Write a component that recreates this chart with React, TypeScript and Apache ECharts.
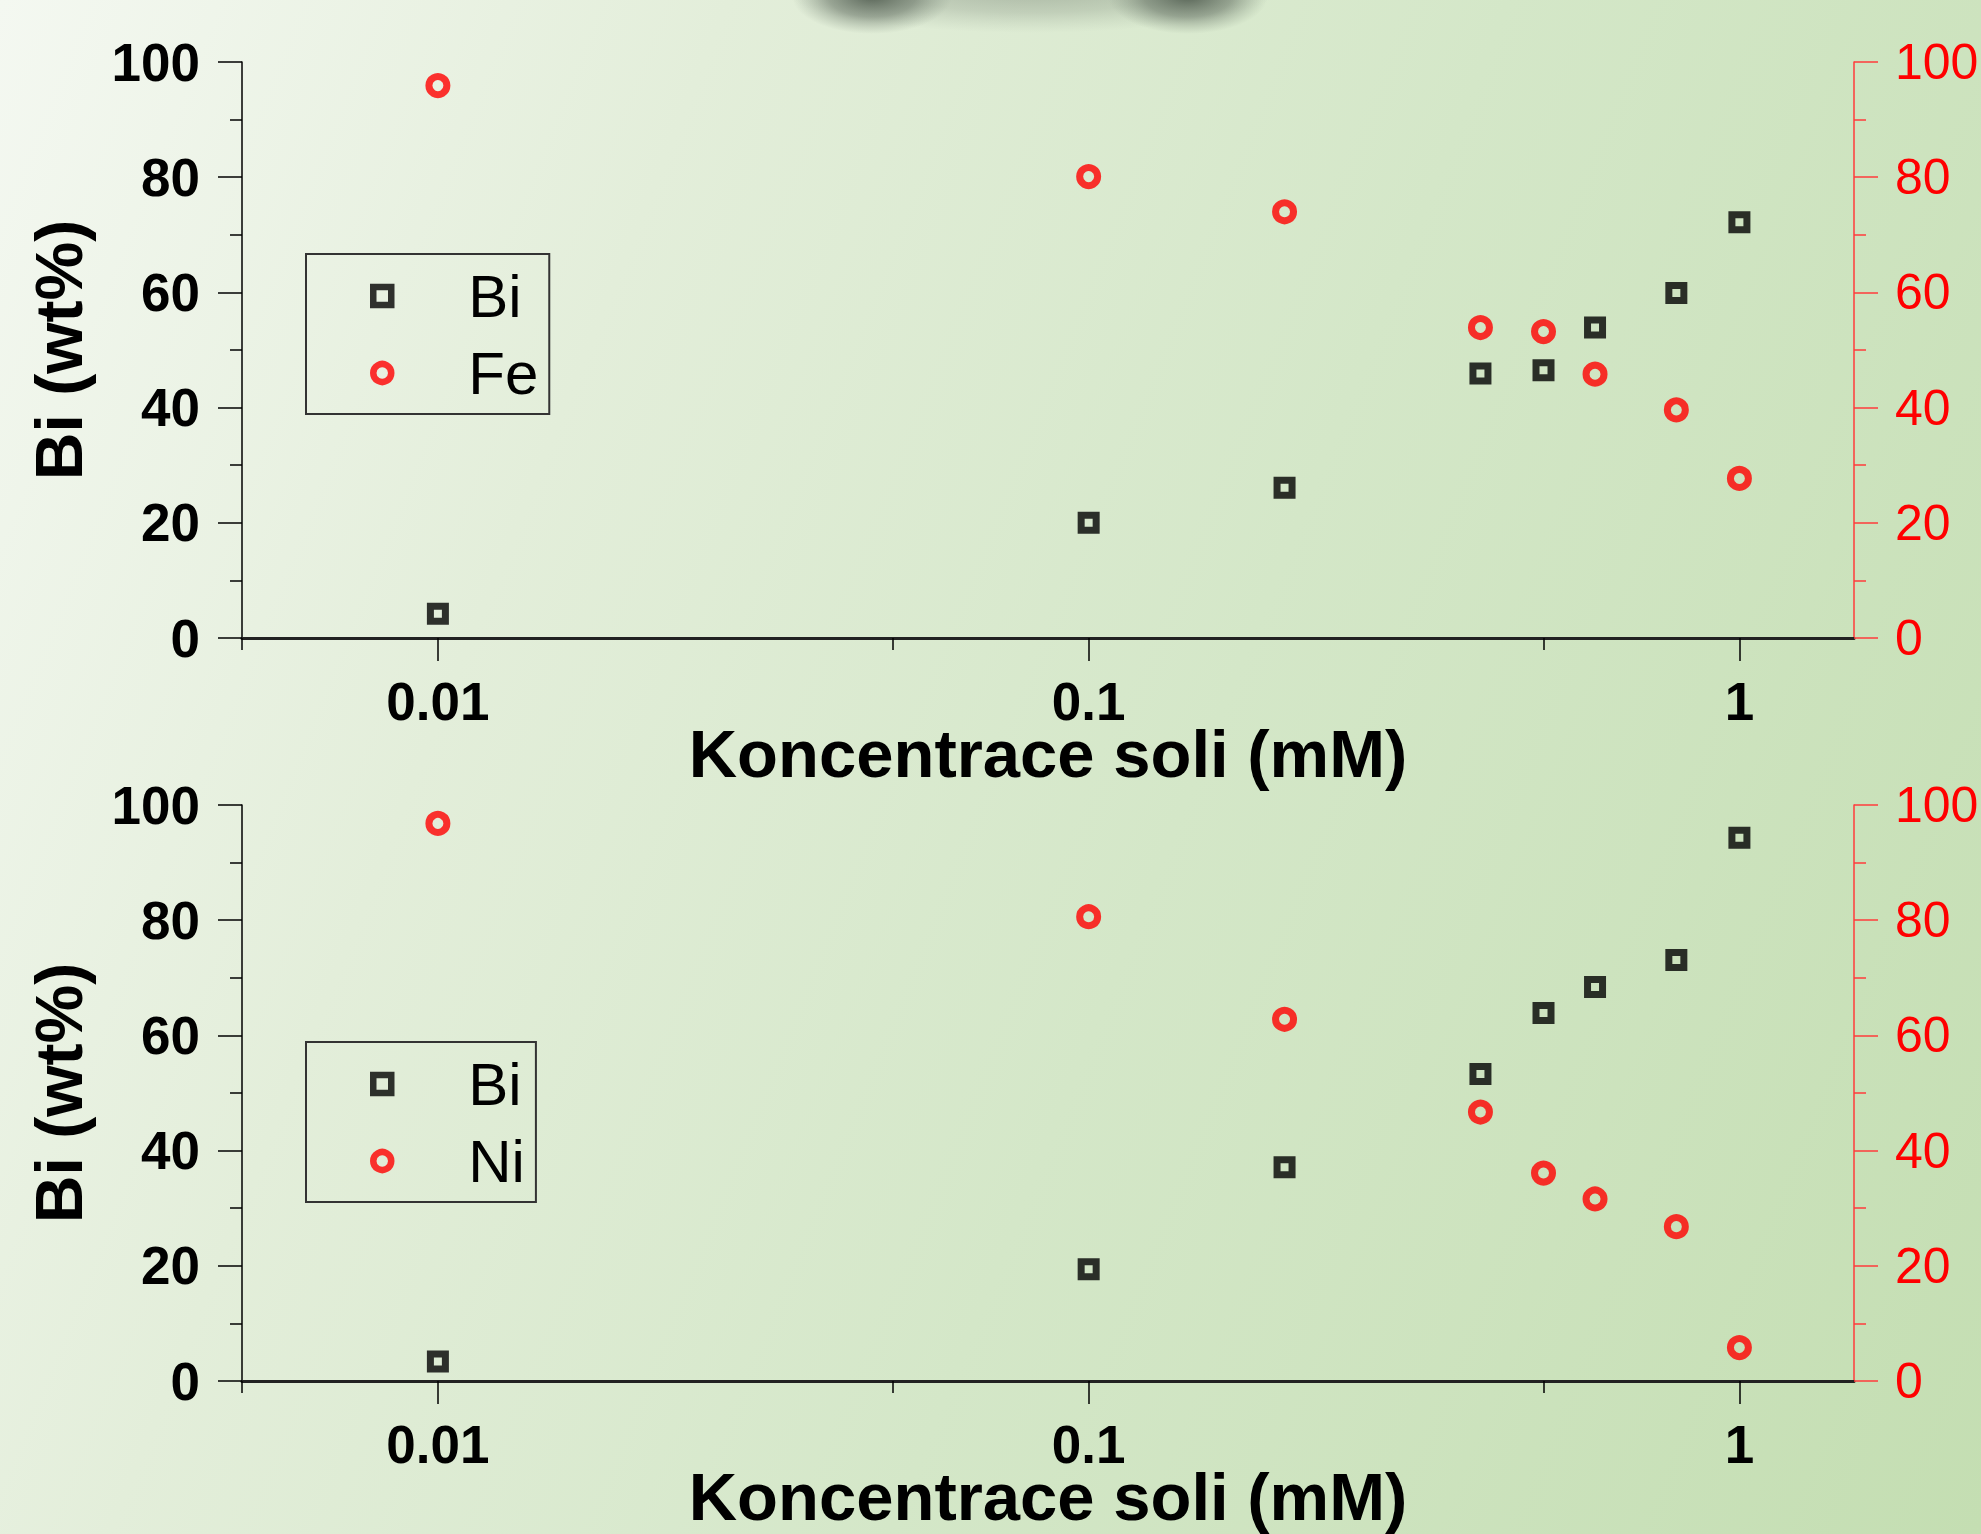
import React, { useEffect, useRef } from 'react';
import * as echarts from 'echarts';

// ---- data ----
const concentrations = [0.01, 0.1, 0.2, 0.4, 0.5, 0.6, 0.8, 1];
const biWithFe = [4.2, 20.0, 26.1, 45.9, 46.5, 53.9, 59.9, 72.2];
const feValues = [95.9, 80.1, 74.0, 53.9, 53.2, 45.8, 39.6, 27.7];
const biWithNi = [3.4, 19.4, 37.1, 53.3, 63.9, 68.4, 73.1, 94.3];
const niValues = [96.8, 80.6, 62.8, 46.7, 36.1, 31.6, 26.8, 5.8];

const xMajorTicks = [0.01, 0.1, 1];
const xMajorLabels = ['0.01', '0.1', '1'];
const xMinorTicks = [0.005, 0.05, 0.5];
const X_MIN = 0.005;
const X_MAX = 1.5;
const Y_MIN = 0;
const Y_MAX = 100;
const Y_STEP = 20;

const xTitle = 'Koncentrace soli (mM)';
const yTitle = 'Bi (wt%)';

const FONT = 'Liberation Sans, Arial, sans-serif';
const RED = '#ff0000';

function xLabelFormatter(v: number) {
  const i = xMajorTicks.findIndex((t) => Math.abs(Math.log10(t) - Math.log10(v)) < 1e-6);
  return i >= 0 ? xMajorLabels[i] : '';
}

function pairs(ys: number[]) {
  return concentrations.map((x, i) => [x, ys[i]]);
}

export default function App() {
  const ref = useRef<HTMLDivElement>(null);

  useEffect(() => {
    if (!ref.current) return;
    const chart = echarts.init(ref.current, undefined, { renderer: 'svg' });

    const gridTops = [62, 805];
    const panels = [
      { bi: biWithFe, other: feValues, otherName: 'Fe', legendTop: 254 },
      { bi: biWithNi, other: niValues, otherName: 'Ni', legendTop: 1042 },
    ];

    const grid: any[] = [];
    const xAxis: any[] = [];
    const yAxis: any[] = [];
    const series: any[] = [];
    const legend: any[] = [];

    panels.forEach((p, g) => {
      grid.push({
        left: 242,
        top: gridTops[g],
        width: 1612,
        height: 576,
        containLabel: false,
        outerBoundsMode: 'none',
      });

      // major x axis
      xAxis.push({
        type: 'log',
        logBase: 10,
        gridIndex: g,
        min: X_MIN,
        max: X_MAX,
        position: 'bottom',
        axisLine: { show: true, lineStyle: { color: '#222', width: 3 } },
        axisTick: { show: true, inside: false, length: 23, customValues: xMajorTicks, lineStyle: { color: '#000', width: 1.5 } },
        minorTick: { show: false },
        axisLabel: {
          show: true,
          customValues: xMajorTicks,
          formatter: xLabelFormatter,
          fontSize: 53,
          fontWeight: 'bold',
          fontFamily: FONT,
          color: '#000',
          margin: 37,
        },
        splitLine: { show: false },
        name: xTitle,
        nameLocation: 'middle',
        nameGap: 82,
        nameMoveOverlap: false,
        nameTextStyle: { fontSize: 67, fontWeight: 'bold', fontFamily: FONT, color: '#000' },
      });
      // minor x ticks
      xAxis.push({
        type: 'log',
        logBase: 10,
        gridIndex: g,
        min: X_MIN,
        max: X_MAX,
        position: 'bottom',
        axisLine: { show: false },
        axisTick: { show: true, inside: false, length: 12, customValues: xMinorTicks, lineStyle: { color: '#000', width: 1.5 } },
        axisLabel: { show: false },
        splitLine: { show: false },
      });

      yAxis.push({
        type: 'value',
        gridIndex: g,
        position: 'left',
        min: Y_MIN,
        max: Y_MAX,
        interval: Y_STEP,
        axisLine: { show: true, lineStyle: { color: '#000', width: 1.5 } },
        axisTick: { show: true, inside: false, length: 24, lineStyle: { color: '#000', width: 1.5 } },
        minorTick: { show: true, splitNumber: 2, length: 12, lineStyle: { color: '#000', width: 1.5 } },
        axisLabel: { fontSize: 53, fontWeight: 'bold', fontFamily: FONT, color: '#000', margin: 42 },
        splitLine: { show: false },
        name: yTitle,
        nameLocation: 'middle',
        nameGap: 150,
        nameMoveOverlap: false,
        nameTextStyle: { fontSize: 66, fontWeight: 'bold', fontFamily: FONT, color: '#000' },
      });
      yAxis.push({
        type: 'value',
        gridIndex: g,
        position: 'right',
        min: Y_MIN,
        max: Y_MAX,
        interval: Y_STEP,
        axisLine: { show: true, lineStyle: { color: '#ff3b3b', width: 1.5 } },
        axisTick: { show: true, inside: false, length: 24, lineStyle: { color: '#ff3b3b', width: 1.5 } },
        minorTick: { show: true, splitNumber: 2, length: 12, lineStyle: { color: '#ff3b3b', width: 1.5 } },
        axisLabel: { fontSize: 50, fontFamily: FONT, color: RED, margin: 41 },
        splitLine: { show: false },
      });

      series.push({
        type: 'scatter',
        name: 'Bi',
        xAxisIndex: g * 2,
        yAxisIndex: g * 2,
        data: pairs(p.bi),
        symbol: 'rect',
        symbolSize: 15,
        itemStyle: { color: 'rgba(0,0,0,0)', borderColor: '#000', borderWidth: 7 },
        z: 3,
      });
      series.push({
        type: 'scatter',
        name: p.otherName,
        xAxisIndex: g * 2,
        yAxisIndex: g * 2 + 1,
        data: pairs(p.other),
        symbol: 'circle',
        symbolSize: 18,
        itemStyle: { color: 'rgba(0,0,0,0)', borderColor: RED, borderWidth: 7 },
        z: 3,
      });

      legend.push({
        show: true,
        left: 306,
        top: p.legendTop,
        orient: 'vertical',
        data: ['Bi', p.otherName],
        selectedMode: false,
        itemWidth: 18,
        itemHeight: 18,
        itemGap: 17,
        padding: [12, 11, 11, 64],
        borderColor: '#333',
        borderWidth: 2,
        itemStyle: { borderWidth: 6.5 },
        textStyle: { fontSize: 60, fontFamily: FONT, color: '#000', padding: [0, 0, 0, 72] },
      });
    });

    const blob = (alpha: number) => ({
      type: 'radial',
      x: 0.5,
      y: 0.5,
      r: 0.5,
      colorStops: [
        { offset: 0, color: `rgba(70,82,70,${alpha})` },
        { offset: 0.55, color: `rgba(90,102,90,${alpha * 0.6})` },
        { offset: 1, color: 'rgba(120,135,120,0)' },
      ],
    });

    chart.setOption({
      animation: false,
      backgroundColor: 'transparent',
      grid,
      xAxis,
      yAxis,
      series,
      legend,
      graphic: [
        { type: 'ellipse', silent: true, shape: { cx: 1030, cy: -12, rx: 250, ry: 45 }, style: { fill: blob(0.35) } },
        { type: 'ellipse', silent: true, shape: { cx: 872, cy: -4, rx: 80, ry: 38 }, style: { fill: blob(0.85) } },
        { type: 'ellipse', silent: true, shape: { cx: 1188, cy: -4, rx: 80, ry: 38 }, style: { fill: blob(0.85) } },
      ],
    });

    return () => {
      chart.dispose();
    };
  }, []);

  return (
    <div
      ref={ref}
      style={{
        position: 'fixed',
        left: 0,
        top: 0,
        width: 1981,
        height: 1534,
        background: 'linear-gradient(112deg, #f4f8f1 0%, #e3eeda 28%, #d4e7c8 58%, #c4deb2 100%)',
      }}
    />
  );
}
